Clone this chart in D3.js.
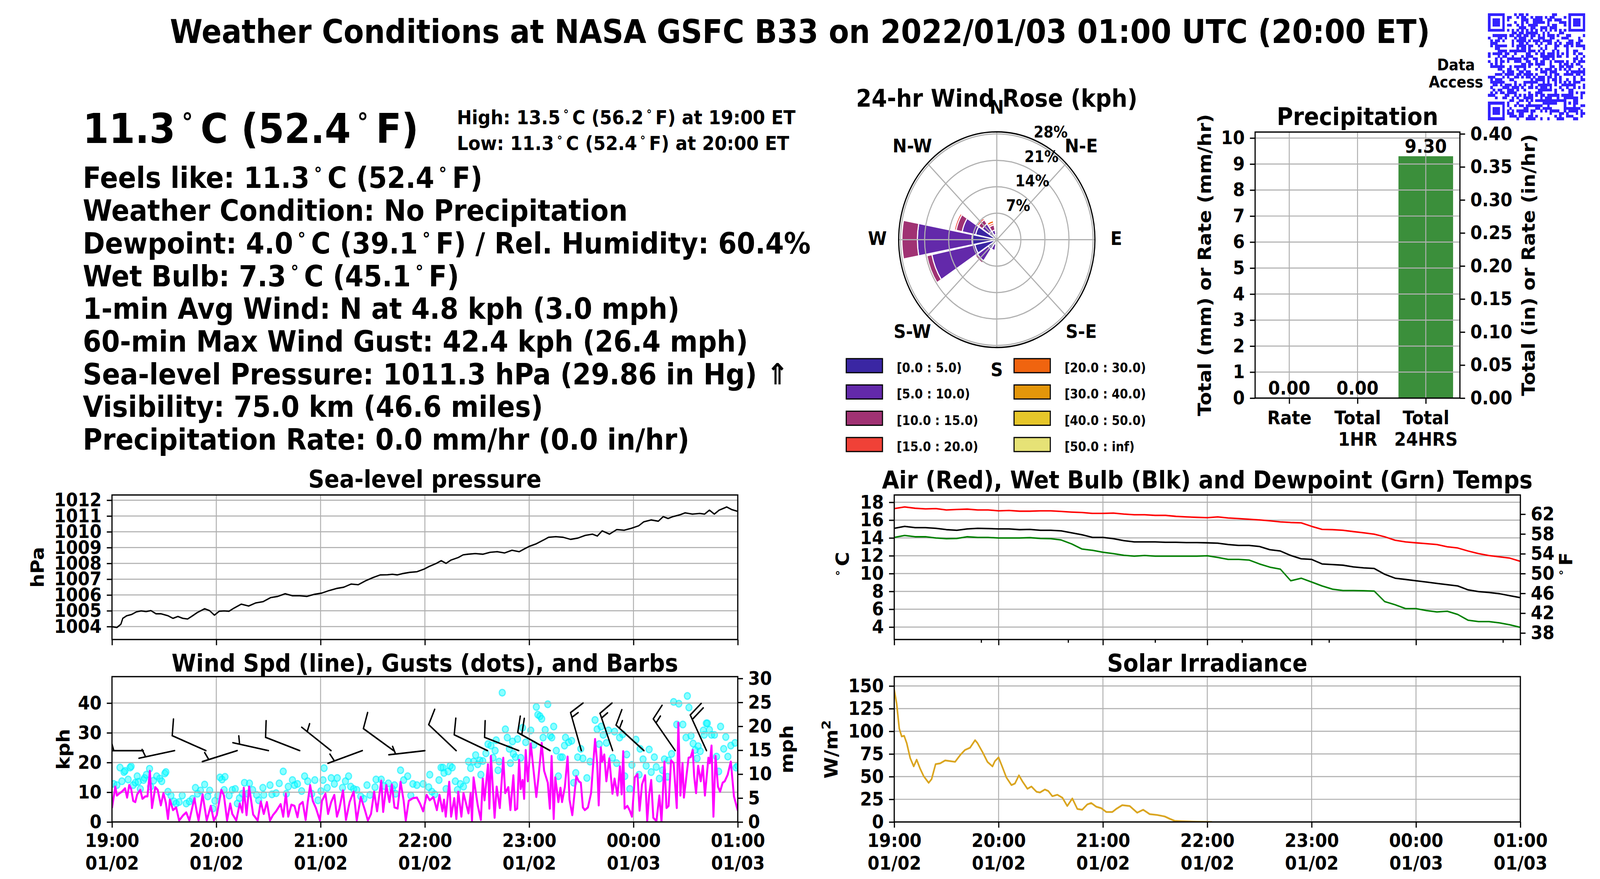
<!DOCTYPE html>
<html>
<head>
<meta charset="utf-8">
<script src="https://cdn.jsdelivr.net/npm/d3@7"></script>
<style>
html,body{margin:0;padding:0;background:#fff;width:100%;height:100%;overflow:hidden;}
#chart{display:block;width:100vw;height:100vh;}
svg text{font-family:"DejaVu Sans",sans-serif;font-weight:bold;}
</style>
</head>
<body>
<svg id="chart" viewBox="0 0 4500 2250" preserveAspectRatio="none" xmlns="http://www.w3.org/2000/svg"></svg>
<script>
// ======================= DATA =======================
const titleText = "Weather Conditions at NASA GSFC B33 on 2022/01/03 01:00 UTC (20:00 ET)";
const currentTemp = "11.3°C (52.4°F)";
const highLowLines = ["High: 13.5°C (56.2°F) at 19:00 ET", "Low: 11.3°C (52.4°F) at 20:00 ET"];
const infoLines = [
  "Feels like: 11.3°C (52.4°F)",
  "Weather Condition: No Precipitation",
  "Dewpoint: 4.0°C (39.1°F) / Rel. Humidity: 60.4%",
  "Wet Bulb: 7.3°C (45.1°F)",
  "1-min Avg Wind: N at 4.8 kph (3.0 mph)",
  "60-min Max Wind Gust: 42.4 kph (26.4 mph)",
  "Sea-level Pressure: 1011.3 hPa (29.86 in Hg) \u21D1",
  "Visibility: 75.0 km (46.6 miles)",
  "Precipitation Rate: 0.0 mm/hr (0.0 in/hr)"
];

// time axis (minutes after 2022/01/02 19:00 UTC)
const hourTicks = [0, 60, 120, 180, 240, 300, 360];
const hourLabels = [["19:00","01/02"],["20:00","01/02"],["21:00","01/02"],["22:00","01/02"],["23:00","01/02"],["00:00","01/03"],["01:00","01/03"]];
const tempMinorTicks = [50, 100, 150, 200, 250, 350];

// sea-level pressure [minute, hPa]
const pressure = [[0,1003.99],[2.8,1003.94],[5.1,1004.15],[6.2,1004.52],[8.4,1004.68],[11.2,1004.76],[14.0,1004.93],[16.8,1004.99],[19.6,1004.95],[22.4,1005.01],[25.3,1004.81],[28.1,1004.81],[32.3,1004.68],[35.1,1004.52],[37.9,1004.64],[40.7,1004.52],[43.5,1004.48],[46.3,1004.68],[49.1,1004.89],[53.3,1005.13],[56.1,1005.01],[58.9,1004.72],[61.7,1004.97],[64.5,1004.99],[67.3,1004.97],[70.2,1005.17],[74.4,1005.42],[78.6,1005.30],[82.8,1005.50],[87.0,1005.58],[91.2,1005.83],[95.4,1005.91],[99.6,1006.08],[103.8,1005.95],[108.0,1005.95],[112.2,1005.91],[116.4,1006.04],[120.7,1006.12],[124.9,1006.28],[129.1,1006.41],[133.3,1006.49],[137.5,1006.69],[141.7,1006.65],[145.9,1006.90],[150.1,1007.10],[154.3,1007.27],[158.5,1007.28],[161.3,1007.31],[164.2,1007.27],[167.0,1007.35],[171.2,1007.43],[175.4,1007.47],[179.6,1007.64],[182.4,1007.80],[186.6,1008.00],[189.4,1008.17],[192.2,1008.00],[195.0,1008.21],[199.2,1008.37],[202.0,1008.54],[204.8,1008.58],[209.0,1008.62],[213.3,1008.58],[217.5,1008.70],[221.7,1008.74],[225.9,1008.66],[230.1,1008.83],[234.3,1008.74],[237.1,1008.91],[239.9,1009.07],[244.1,1009.24],[248.3,1009.48],[251.1,1009.65],[255.3,1009.69],[259.6,1009.65],[263.8,1009.52],[268.0,1009.60],[272.2,1009.77],[276.4,1009.85],[279.2,1009.73],[282.0,1010.06],[286.2,1009.85],[290.4,1010.14],[294.6,1010.10],[298.8,1010.22],[303.0,1010.38],[305.9,1010.63],[310.1,1010.75],[314.3,1010.67],[317.1,1010.96],[319.9,1010.84],[322.7,1010.96],[326.9,1011.08],[329.7,1011.20],[333.9,1011.12],[338.1,1011.16],[340.9,1011.12],[343.7,1011.37],[346.5,1011.12],[349.3,1011.37],[353.6,1011.57],[356.4,1011.41],[360,1011.29]];

// 1-min wind speed [minute, kph]
const windSpeed = [[0,4.7],[1.9,11.9],[2.8,8.9],[4.0,9.5],[5.7,10.2],[7.5,11.3],[8.7,8.2],[9.9,12.4],[11.0,11.1],[12.2,7.1],[13.4,6.7],[14.5,9.3],[16.3,10.8],[17.5,7.8],[19.2,8.6],[20.4,8.6],[21.8,17.2],[23.0,4.7],[24.9,11.7],[26.3,10.8],[28.1,5.6],[29.6,9.7],[31.0,6.4],[32.2,1.0],[33.3,7.5],[35.1,4.0],[36.9,4.9],[38.6,0.5],[41.0,2.3],[42.7,3.2],[44.5,0.5],[47.4,8.0],[48.6,4.0],[49.8,0.5],[52.1,9.3],[54.5,0.5],[56.8,5.4],[58.6,0.5],[60.3,2.3],[62.9,10.8],[64.4,8.9],[66.2,0.5],[68.0,6.2],[69.2,2.7],[71.5,0.5],[73.5,6.2],[75.0,3.2],[75.8,11.5],[77.4,2.3],[78.9,11.9],[81.2,2.5],[83.8,0.5],[85.6,6.9],[87.3,2.7],[89.1,6.7],[90.9,0.5],[92.6,2.3],[94.4,3.6],[97.0,6.0],[98.5,1.8],[100.0,9.5],[101.4,1.8],[103.2,5.8],[105.0,5.4],[106.7,1.6],[107.9,5.8],[109.7,6.7],[111.4,0.7],[112.6,6.7],[114.0,12.4],[115.5,7.1],[117.3,4.7],[119.6,0.5],[120.8,7.1],[122.8,9.5],[124.3,2.7],[126.1,6.7],[127.9,9.1],[129.4,1.8],[130.8,4.5],[132.9,10.6],[134.6,0.7],[136.7,6.7],[139.0,10.2],[140.8,0.5],[143.1,8.4],[145.5,4.0],[147.2,0.5],[149.0,2.7],[150.8,10.2],[152.5,3.6],[154.9,13.9],[156.0,3.4],[157.8,12.4],[159.6,6.7],[161.0,12.6],[162.5,4.9],[164.3,4.5],[166.0,13.5],[167.8,7.1],[169.0,0.5],[170.7,7.1],[173.1,8.0],[175.4,8.2],[177.2,6.2],[179.0,3.6],
[181.0,9.1],[182.8,7.3],[184.9,8.4],[186.9,4.0],[188.4,9.1],[190.1,3.6],[191.0,7.5],[192.0,1.8],[194.0,13.5],[195.1,1.8],[196.9,8.0],[198.1,1.0],[199.2,10.2],[201.0,1.8],[202.2,9.7],[205.1,2.9],[206.3,9.7],[207.1,0.3],[208.0,15.0],[210.4,5.6],[212.2,0.7],[213.3,14.6],[214.3,7.3],[216.3,19.4],[217.1,4.5],[218.0,22.2],[220.1,1.4],[221.3,11.9],[223.1,4.7],[225.1,21.6],[226.2,9.7],[228.0,11.7],[229.2,4.0],[230.9,15.7],[231.9,4.0],[233.1,4.5],[234.2,20.9],[235.1,11.1],[236.2,14.1],[237.1,7.8],[238.0,24.2],[239.2,13.7],[240.9,26.4],[242.7,16.3],[244.1,8.4],[245.3,14.8],[247.2,26.6],[248.6,17.2],[250.7,13.2],[251.9,4.5],[252.9,22.2],[254.1,1.0],[255.0,15.0],[256.8,6.7],[258.0,11.5],[258.9,6.7],[260.5,11.7],[262.1,22.0],[263.2,7.5],[264.8,2.3],[267.1,15.4],[268.5,13.7],[269.7,13.2],[270.9,4.9],[272.0,4.0],[273.8,4.9],[275.6,9.7],[277.9,27.9],[279.1,19.8],[280.0,5.6],[281.2,25.1],[282.0,20.3],[283.2,22.7],[284.4,13.7],[286.1,21.4],[287.9,9.5],[289.1,14.6],[290.8,8.9],[292.2,18.7],[293.2,9.3],[294.1,23.8],[294.9,4.5],[296.5,5.4],[297.9,3.8],[299.1,1.8],[300.8,15.0],[302.3,16.1],[303.5,3.8],[304.9,12.6],[306.7,15.7],[307.9,0.3],[309.0,9.1],[310.2,14.1],[311.4,1.4],[313.2,0.3],[314.9,8.9],[316.1,0.1],[317.8,20.3],[319.0,4.7],[320.2,5.4],[321.6,20.7],[323.1,19.8],[324.9,4.7],[325.8,33.4],[327.0,8.9],[328.2,19.8],[329.0,8.2],[330.2,14.1],[331.7,21.6],[332.9,21.8],[334.1,24.2],[334.9,15.4],[336.0,9.7],[337.2,18.9],[338.7,13.7],[339.9,18.9],[341.1,8.9],[343.1,21.6],[343.9,19.8],[344.9,25.7],[346.0,1.8],[347.2,22.2],[348.6,11.9],[349.8,10.2],[351.3,13.2],[352.5,13.7],[354.2,15.9],[356.0,20.3],[357.8,8.6],[359.5,4.9],[360,3.8]];

// wind gusts [minute, kph]
const windGust = [[1.0,12.8],[2.8,12.4],[4.6,18.3],[5.7,13.7],[6.9,16.8],[7.5,17.2],[9.3,14.3],[10.4,18.3],[11.0,18.7],[12.2,12.4],[13.4,13.2],[14.5,15.4],[15.1,13.5],[16.3,11.1],[18.1,14.1],[18.7,14.8],[19.8,15.9],[21.6,17.9],[22.2,11.9],[23.9,13.9],[25.7,15.4],[27.5,14.6],[28.6,13.7],[30.4,16.3],[31.0,16.8],[32.2,10.2],[33.9,8.9],[35.7,6.9],[36.9,6.2],[38.6,6.7],[40.4,8.9],[42.7,6.2],[44.5,6.9],[46.3,7.8],[48.0,11.5],[49.2,9.5],[50.9,10.6],[53.3,12.6],[55.1,8.6],[56.2,10.6],[58.0,4.5],[59.2,7.1],[60.9,8.9],[62.1,15.0],[63.3,14.3],[64.5,10.8],[65.0,15.2],[67.4,8.9],[69.2,10.8],[70.9,11.1],[72.1,6.2],[73.3,8.0],[75.0,9.5],[76.2,13.2],[78.0,9.5],[79.1,13.0],[80.9,10.8],[83.2,9.1],[84.4,7.3],[86.8,11.5],[87.3,9.1],[90.9,12.4],[92.0,9.3],[94.4,9.7],[96.2,13.0],[98.5,17.0],[100.3,9.5],[101.4,11.9],[103.8,14.1],[105.0,12.4],[106.7,12.8],[109.1,10.4],[110.8,15.4],[112.6,13.7],[114.9,9.5],[116.7,14.1],[118.5,7.3],[120.2,10.4],[121.4,14.1],[122.0,18.1],[123.8,11.5],[126.1,14.8],[127.9,12.8],[129.6,14.8],[132.6,11.5],[134.3,13.7],[136.1,15.4],[137.3,11.9],[139.0,11.1],[140.8,10.8],[143.1,8.6],[144.9,7.8],[146.7,12.4],[148.4,9.1],[151.3,11.7],[151.9,14.3],[154.9,14.3],[156.6,12.1],[159.0,13.0],[161.3,11.1],[162.5,12.4],[163.1,9.5],[166.0,17.4],[167.8,14.1],[170.1,15.4],[171.9,8.9],[173.1,12.8],[175.4,12.4],[179.0,12.8],
[182.2,11.7],[182.8,15.9],[184.0,10.2],[185.7,9.3],[188.1,14.1],[189.3,18.3],[190.4,18.3],[191.0,16.5],[192.2,11.1],[193.4,17.0],[194.5,18.9],[195.7,18.3],[197.5,13.7],[198.7,10.8],[200.4,12.8],[202.2,11.9],[203.9,14.1],[205.1,20.3],[206.3,18.1],[208.0,20.3],[209.2,22.5],[210.4,19.4],[211.6,20.7],[212.2,15.9],[213.3,20.5],[215.1,23.1],[216.3,26.2],[218.0,25.7],[219.2,21.6],[220.4,24.0],[221.0,27.5],[222.1,17.4],[222.7,20.3],[224.5,43.5],[226.3,31.2],[227.4,28.4],[228.6,24.6],[229.2,19.8],[230.4,27.1],[230.9,22.9],[232.1,21.8],[233.3,27.9],[235.1,21.6],[236.2,31.7],[238.0,26.8],[240.9,30.8],[242.7,26.0],[244.1,38.7],[245.0,36.1],[246.2,35.6],[247.2,34.7],[248.0,28.4],[249.2,31.0],[250.7,39.6],[252.1,29.0],[253.0,28.4],[254.1,32.1],[255.6,24.0],[256.8,15.4],[258.0,21.8],[259.1,21.8],[260.3,25.7],[260.9,28.4],[262.7,26.8],[264.4,27.3],[265.6,13.2],[266.8,16.5],[267.9,21.8],[269.7,24.6],[270.9,21.4],[273.2,14.8],[275.0,20.3],[277.9,34.3],[279.1,31.2],[280.3,26.2],[281.4,32.1],[282.6,29.3],[284.4,26.6],[285.6,30.8],[287.9,21.6],[289.1,30.4],[290.3,19.8],[292.0,28.4],[293.8,29.5],[295.0,15.4],[296.1,22.7],[297.9,11.1],[299.1,19.2],[301.4,27.7],[303.2,15.9],[303.8,24.6],[305.5,21.1],[307.3,18.9],[309.0,24.4],[310.2,16.8],[312.0,21.8],[313.1,18.5],[314.9,14.6],[316.7,17.4],[317.8,21.1],[319.6,15.2],[320.2,20.7],[321.9,22.9],[323.1,40.4],[324.9,32.8],[326.1,39.8],[328.4,32.8],[330.2,28.4],[331.0,42.4],[331.9,38.5],[333.1,29.0],[334.3,26.4],[335.5,24.2],[336.6,21.4],[337.2,25.5],[338.4,23.8],[340.2,30.8],[340.7,29.3],[341.9,33.2],[342.5,33.2],[343.7,31.0],[344.9,29.3],[346.6,29.3],[347.8,22.0],[349.0,17.0],[350.1,32.1],[351.9,24.6],[353.1,28.6],[354.3,22.0],[356.0,25.7],[358.4,26.6],[359.0,18.3],[360.0,18.9]];

// wind barbs (every 18 min): wind-from direction (deg) and speed class (kph)
const barbMin = [0,18,36,54,72,90,108,126,144,162,180,198,216,234,252,270,288,306,324,342];
const barbFrom = [270,270,259,292,254,281.5,289.5,306,251.5,303.6,264,310.7,293.5,289.5,297,342.7,339.6,309.8,322.8,333.4];
const barbSpeed = [10,5,5,10,5,5,10,5,5,10,5,10,10,10,20,15,15,15,15,20];
const barbLevel = 24;

// temperatures every 6 minutes
const tempMin = [0,6,12,18,24,30,36,42,48,54,60,66,72,78,84,90,96,102,108,114,120,126,132,138,144,150,156,162,168,174,180,186,192,198,204,210,216,222,228,234,240,246,252,258,264,270,276,282,288,294,300,306,312,318,324,330,336,342,348,354,360];
const airC = [17.29,17.48,17.33,17.26,17.29,17.14,17.19,17.23,17.14,17.14,17.04,17.08,17.00,17.00,17.04,17.04,16.97,16.90,16.85,16.75,16.75,16.79,16.68,16.60,16.60,16.53,16.53,16.42,16.36,16.31,16.27,16.36,16.24,16.17,16.10,16.02,15.92,15.80,15.73,15.69,15.30,14.96,14.93,14.86,14.71,14.57,14.42,14.13,13.74,13.55,13.45,13.36,13.26,13.01,12.87,12.53,12.24,12.02,11.88,11.73,11.37];
const wetBulbC = [15.08,15.30,15.15,15.15,15.08,14.93,14.86,15.01,15.08,15.05,15.01,15.01,14.93,14.96,14.86,14.86,14.79,14.57,14.35,14.06,14.06,13.92,13.70,13.55,13.55,13.55,13.51,13.51,13.48,13.48,13.45,13.41,13.26,13.16,13.16,13.04,12.68,12.53,12.03,11.66,11.59,11.08,11.01,10.94,10.75,10.64,10.57,9.92,9.48,9.34,9.19,9.05,8.90,8.75,8.61,8.17,7.98,7.88,7.74,7.52,7.30];
const dewC = [14.06,14.28,14.13,14.13,13.99,13.92,13.94,14.13,14.06,14.06,13.99,13.99,13.99,14.03,13.94,13.92,13.77,13.33,12.75,12.61,12.39,12.24,12.05,11.95,12.03,11.95,11.95,11.95,11.95,11.95,12.00,11.81,11.59,11.59,11.52,11.08,10.72,10.50,9.19,9.48,9.05,8.61,8.25,8.10,8.10,8.07,8.03,6.86,6.50,6.07,6.07,5.85,5.70,5.77,5.41,4.76,4.61,4.61,4.47,4.25,3.96];

// solar irradiance [minute, W/m2]
const solar = [[0,146],[1.4,130.5],[2.9,103],[4.3,94.3],[5.7,95],[7.2,86.9],[9.2,70.4],[11.2,61.3],[12.9,68.7],[14.9,58.8],[16.9,50.6],[19.8,43.2],[21.5,47.3],[23.8,63.8],[26.4,64.6],[29.3,67.9],[32.1,67.1],[35.0,66.3],[37.9,73.7],[40.7,79.4],[43.6,81.9],[46.5,90.2],[47.9,86.9],[50.8,77.0],[53.6,66.3],[56.5,61.3],[57.9,67.1],[60.0,71.2],[62.2,60.5],[64.5,49.0],[67.4,40.7],[69.4,42.4],[71.7,51.4],[73.7,44.8],[76.6,36.6],[78.9,39.1],[81.8,33.3],[83.8,32.5],[86.6,35.8],[88.6,34.1],[90.9,28.4],[93.8,30.0],[96.7,26.7],[99.5,17.6],[102.4,25.9],[105.3,14.3],[108.1,13.5],[111.0,19.3],[113.3,20.9],[116.2,16.8],[119.0,15.2],[121.9,11.0],[125.4,11.0],[127.6,14.3],[131.1,18.5],[135.4,17.6],[139.7,10.2],[143.1,13.5],[146.9,8.6],[151.2,7.7],[155.5,6.1],[158.3,3.6],[161.2,1.2],[165.5,0.8],[174.1,0.2],[182.7,0]];

// precipitation
const precipCats = [["Rate"],["Total","1HR"],["Total","24HRS"]];
const precipVals = [0.00, 0.00, 9.30];

// wind rose: percent frequency by direction, per speed bin (kph)
const roseDirs = ["N","NNE","NE","ENE","E","ESE","SE","SSE","S","SSW","SW","WSW","W","WNW","NW","NNW"];
const roseBinLabels = ["[0.0 : 5.0)","[5.0 : 10.0)","[10.0 : 15.0)","[15.0 : 20.0)","[20.0 : 30.0)","[30.0 : 40.0)","[40.0 : 50.0)","[50.0 : inf)"];
const rose0to5   = [0.8,0.4,0,0,0,0.4,0,0.3,0.4,1.2,3.0,6.5,7.2,6.3,2.7,1.4];
const rose5to10  = [1.2,0,0,0,0,0,0,0.3,0.3,1.7,3.8,12.8,15.9,4.0,2.4,1.2];
const rose10to15 = [0,0,0,0,0,0,0,0,0,0,0.7,1.5,4.5,1.8,1.3,1.4];
const rose15to20 = [0,0,0,0,0,0,0,0,0,0,0,0.5,0,0.5,0.5,0.5];
const rose20to30 = [0,0,0,0,0,0,0,0,0,0,0,0,0,0,0,0.65];
const rose30to40 = [0,0,0,0,0,0,0,0,0,0,0,0,0,0,0,0];
const rose40to50 = [0,0,0,0,0,0,0,0,0,0,0,0,0,0,0,0];
const rose50up   = [0,0,0,0,0,0,0,0,0,0,0,0,0,0,0,0];
const roseRings = [7, 14, 21, 28];
const roseCompass = ["N","N-E","E","S-E","S","S-W","W","N-W"];

// ======================= STYLE / LAYOUT =======================
const FONT = "DejaVu Sans";
const GRID = "#b0b0b0", GW = 2.7, SPW = 3.3, TL = 14.6, TW = 3.3, PAD = 14.6;
const TICKFS = 48, LABFS = 50, TITLEFS = 62.5;
const roseColors = ["#3a26a3","#6329aa","#a03273","#f04137","#f0640f","#e4960a","#e6c62a","#e6e276"];
const P = {
  press: {x0:315, x1:2075, y0:1267, y1:1637},
  wind:  {x0:315, x1:2075, y0:1732, y1:2104},
  temp:  {x0:2515, x1:4276, y0:1267, y1:1637},
  solar: {x0:2515, x1:4276, y0:1732, y1:2104},
  precip:{x0:3530, x1:4106, y0:338, y1:1019}
};

const svg = d3.select("#chart");
svg.append("rect").attr("width",4500).attr("height",2250).attr("fill","#fff");
const defs = svg.append("defs");

function richText(parent, x, y, str, fs, anchor) {
  const t = parent.append("text").attr("x", x).attr("y", y).attr("font-size", fs)
    .attr("text-anchor", anchor || "start").attr("fill", "#000");
  const parts = str.split("°");
  parts.forEach((p, i) => {
    if (i > 0) {
      t.append("tspan").attr("dx", (0.17*fs).toFixed(1)).attr("dy", (-0.29*fs).toFixed(1))
        .attr("font-size", (0.6*fs).toFixed(1)).text("°");
      t.append("tspan").attr("dx", (0.2*fs).toFixed(1)).attr("dy", (0.29*fs).toFixed(1)).text(p);
    } else if (p.length) {
      t.append("tspan").text(p);
    }
  });
  return t;
}
function yLabel(x, yc, str, fs) {
  const g = svg.append("g").attr("transform", `translate(${x},${yc}) rotate(-90)`);
  return richText(g, 0, 0.35*fs, str, fs, "middle");
}
function styleAxis(sel, fs) {
  sel.select(".domain").remove();
  sel.attr("font-size", fs).attr("font-family", FONT).attr("font-weight", "bold");
  sel.selectAll(".tick line").attr("stroke-width", TW).attr("stroke", "#000");
  sel.selectAll(".tick text").attr("fill", "#000");
}
function clipFor(id, p) {
  defs.append("clipPath").attr("id", id).append("rect")
    .attr("x", p.x0).attr("y", p.y0).attr("width", p.x1 - p.x0).attr("height", p.y1 - p.y0);
  return `url(#${id})`;
}
function spines(p) {
  svg.append("rect").attr("x", p.x0).attr("y", p.y0).attr("width", p.x1 - p.x0).attr("height", p.y1 - p.y0)
    .attr("fill", "none").attr("stroke", "#000").attr("stroke-width", SPW);
}
function gridLines(layer, p, x, xvals, y, yvals) {
  xvals.forEach(v => layer.append("line").attr("x1", x(v)).attr("x2", x(v)).attr("y1", p.y0).attr("y2", p.y1)
    .attr("stroke", GRID).attr("stroke-width", GW));
  yvals.forEach(v => layer.append("line").attr("x1", p.x0).attr("x2", p.x1).attr("y1", y(v)).attr("y2", y(v))
    .attr("stroke", GRID).attr("stroke-width", GW));
}
function timeAxis(p, x, withLabels, minor) {
  const ax = svg.append("g").attr("transform", `translate(0,${p.y1})`)
    .call(d3.axisBottom(x).tickValues(hourTicks).tickSize(TL).tickPadding(PAD).tickFormat(() => ""));
  styleAxis(ax, TICKFS);
  if (withLabels) {
    ax.selectAll(".tick text").each(function(d, i) {
      const t = d3.select(this); t.attr("dy", null).attr("y", TL + PAD);
      t.append("tspan").attr("x", 0).attr("dy", "0.73em").text(hourLabels[i][0]);
      t.append("tspan").attr("x", 0).attr("dy", "1.2em").text(hourLabels[i][1]);
    });
  }
  if (minor) {
    const mx = svg.append("g").attr("transform", `translate(0,${p.y1})`)
      .call(d3.axisBottom(x).tickValues(minor).tickSize(8.3).tickFormat(() => ""));
    styleAxis(mx, TICKFS);
  }
}
function leftAxis(p, y, vals, fmt) {
  const ax = svg.append("g").attr("transform", `translate(${p.x0},0)`)
    .call(d3.axisLeft(y).tickValues(vals).tickSize(TL).tickPadding(PAD).tickFormat(fmt));
  styleAxis(ax, TICKFS);
}
function rightAxis(p, y, vals, fmt) {
  const ax = svg.append("g").attr("transform", `translate(${p.x1},0)`)
    .call(d3.axisRight(y).tickValues(vals).tickSize(TL).tickPadding(PAD).tickFormat(fmt));
  styleAxis(ax, TICKFS);
}

// ======================= TITLE & TEXT =======================
svg.append("text").attr("x", 2250).attr("y", 110).attr("font-size", 83.3).attr("text-anchor", "middle").text(titleText);
richText(svg, 233, 366, currentTemp, 105.5, "start");
richText(svg, 1285, 318, highLowLines[0], 50, "start");
richText(svg, 1285, 384.5, highLowLines[1], 50, "start");
infoLines.forEach((s, i) => richText(svg, 233, 481.5 + i*83.7, s, 75, "start"));

// ======================= QR CODE =======================
(function qr() {
  const n = 41, ms = 273/41, ox = 4185, oy = 34;
  const m = Array.from({length:n}, () => new Array(n).fill(0));
  for (let r = 0; r < n; r++) for (let c = 0; c < n; c++) {
    let h = Math.imul(r + 11, 0x9E3779B1) ^ Math.imul(c + 37, 0x85EBCA77);
    h ^= h >>> 15; h = Math.imul(h, 0xC2B2AE3D); h ^= h >>> 13;
    m[r][c] = (h >>> 7) & 1;
  }
  const finder = (r0, c0) => {
    for (let r = -1; r <= 7; r++) for (let c = -1; c <= 7; c++) {
      const rr = r0 + r, cc = c0 + c;
      if (rr < 0 || cc < 0 || rr >= n || cc >= n) continue;
      let v = 0;
      if (r >= 0 && r <= 6 && c >= 0 && c <= 6)
        v = (r === 0 || r === 6 || c === 0 || c === 6 || (r >= 2 && r <= 4 && c >= 2 && c <= 4)) ? 1 : 0;
      m[rr][cc] = v;
    }
  };
  finder(0, 0); finder(0, n - 7); finder(n - 7, 0);
  for (let i = 8; i < n - 8; i++) { m[6][i] = (i % 2 === 0) ? 1 : 0; m[i][6] = (i % 2 === 0) ? 1 : 0; }
  const ac = n - 7;
  for (let r = -2; r <= 2; r++) for (let c = -2; c <= 2; c++)
    m[ac + r][ac + c] = (Math.max(Math.abs(r), Math.abs(c)) !== 1) ? 1 : 0;
  const g = svg.append("g").attr("shape-rendering", "crispEdges");
  for (let r = 0; r < n; r++) for (let c = 0; c < n; c++) if (m[r][c])
    g.append("rect").attr("x", ox + c*ms).attr("y", oy + r*ms).attr("width", ms + 0.6).attr("height", ms + 0.6).attr("fill", "#3322ff");
})();
svg.append("text").attr("x", 4095).attr("y", 179.7).attr("font-size", 40).attr("text-anchor", "middle").text("Data");
svg.append("text").attr("x", 4095).attr("y", 223.7).attr("font-size", 40).attr("text-anchor", "middle").text("Access");

// ======================= WIND ROSE =======================
(function rose() {
  const cx = 2803.5, cy = 613.5, R = 276;
  const rS = d3.scaleLinear().domain([0, 28.54]).range([0, R]);
  const bins = [rose0to5, rose5to10, rose10to15, rose15to20, rose20to30, rose30to40, rose40to50, rose50up];
  const g = svg.append("g").attr("transform", `translate(${cx},${cy})`);
  const arc = d3.arc();
  const hw = (22.5 * 0.95 / 2) * Math.PI / 180;
  roseDirs.forEach((d, i) => {
    const a = i * 22.5 * Math.PI / 180;
    let cum = 0;
    bins.forEach((bin, b) => {
      const v = bin[i];
      if (!(v > 0)) return;
      g.append("path").attr("d", arc({innerRadius: rS(cum), outerRadius: rS(cum + v), startAngle: a - hw, endAngle: a + hw}))
        .attr("fill", roseColors[b]).attr("stroke", "#fff").attr("stroke-width", 3);
      cum += v;
    });
  });
  roseRings.forEach(p => g.append("circle").attr("r", rS(p)).attr("fill", "none").attr("stroke", GRID).attr("stroke-width", 3));
  for (let k = 0; k < 8; k++) {
    const a = k * Math.PI / 4;
    g.append("line").attr("x1", 0).attr("y1", 0).attr("x2", R * Math.sin(a)).attr("y2", -R * Math.cos(a))
      .attr("stroke", GRID).attr("stroke-width", 3);
  }
  g.append("circle").attr("r", R).attr("fill", "none").attr("stroke", "#000").attr("stroke-width", SPW);
  roseRings.forEach(p => {
    const r = rS(p);
    g.append("text").attr("x", 0.383 * r).attr("y", -0.924 * r - 11).attr("font-size", 40).text(p + "%");
  });
  roseCompass.forEach((lab, k) => {
    const a = k * Math.PI / 4, rr = 336;
    g.append("text").attr("x", rr * Math.sin(a)).attr("y", -rr * Math.cos(a) - 3).attr("font-size", 48)
      .attr("text-anchor", "middle").attr("dominant-baseline", "central").text(lab);
  });
  svg.append("text").attr("x", cx).attr("y", 272.7).attr("font-size", TITLEFS).attr("text-anchor", "middle").text("24-hr Wind Rose (kph)");
  // legend
  const legX = [2380, 2852], legTX = [2522, 2994];
  roseBinLabels.forEach((lab, i) => {
    const col = Math.floor(i / 4), row = i % 4, yc = 936 + row * 67.3;
    svg.append("rect").attr("x", legX[col]).attr("y", yc - 18).attr("width", 102).attr("height", 36)
      .attr("fill", roseColors[i]).attr("stroke", "#000").attr("stroke-width", 3);
    svg.append("text").attr("x", legTX[col]).attr("y", yc + 17).attr("font-size", 33).text(lab);
  });
})();

// ======================= PRECIPITATION =======================
(function precip() {
  const p = P.precip;
  const x = d3.scaleLinear().domain([-0.5, 2.5]).range([p.x0, p.x1]);
  const y = d3.scaleLinear().domain([0, 10.23]).range([p.y1, p.y0]);
  const yIn = d3.scaleLinear().domain([0, 10.23 / 25.4]).range([p.y1, p.y0]);
  const bw = 0.8;
  precipVals.forEach((v, i) => {
    svg.append("rect").attr("x", x(i - bw/2)).attr("width", x(i + bw/2) - x(i - bw/2))
      .attr("y", y(v)).attr("height", y(0) - y(v)).attr("fill", "#3b8f3b");
  });
  const gl = svg.append("g");
  gridLines(gl, p, x, [0, 1, 2], y, d3.range(0, 11));
  precipVals.forEach((v, i) => {
    svg.append("text").attr("x", x(i)).attr("y", y(v) - 9).attr("font-size", TICKFS).attr("text-anchor", "middle").text(v.toFixed(2));
  });
  spines(p);
  leftAxis(p, y, d3.range(0, 11), d3.format("d"));
  rightAxis(p, yIn, [0, 0.05, 0.10, 0.15, 0.20, 0.25, 0.30, 0.35, 0.40], d3.format(".2f"));
  const ax = svg.append("g").attr("transform", `translate(0,${p.y1})`)
    .call(d3.axisBottom(x).tickValues([0, 1, 2]).tickSize(TL).tickPadding(PAD).tickFormat(() => ""));
  styleAxis(ax, TICKFS);
  ax.selectAll(".tick text").each(function(d, i) {
    const t = d3.select(this); t.attr("dy", null).attr("y", TL + PAD);
    precipCats[i].forEach((s, j) => t.append("tspan").attr("x", 0).attr("dy", j === 0 ? "0.78em" : "1.15em").text(s));
  });
  svg.append("text").attr("x", (p.x0 + p.x1) / 2).attr("y", 320.5).attr("font-size", TITLEFS).attr("text-anchor", "middle").text("Precipitation");
  yLabel(3388, (p.y0 + p.y1) / 2, "Total (mm) or Rate (mm/hr)", LABFS);
  yLabel(4299, (p.y0 + p.y1) / 2, "Total (in) or Rate (in/hr)", LABFS);
})();

// ======================= SEA-LEVEL PRESSURE =======================
(function press() {
  const p = P.press;
  const x = d3.scaleLinear().domain([0, 360]).range([p.x0, p.x1]);
  const y = d3.scaleLinear().domain([1003.18, 1012.33]).range([p.y1, p.y0]);
  const ticks = d3.range(1004, 1013);
  gridLines(svg.append("g"), p, x, hourTicks, y, ticks);
  svg.append("path").datum(pressure).attr("clip-path", clipFor("cp-press", p))
    .attr("d", d3.line().x(d => x(d[0])).y(d => y(d[1])))
    .attr("fill", "none").attr("stroke", "#000").attr("stroke-width", 3.6).attr("stroke-linejoin", "round");
  spines(p);
  leftAxis(p, y, ticks, d3.format("d"));
  timeAxis(p, x, false, null);
  svg.append("text").attr("x", (p.x0 + p.x1) / 2).attr("y", 1248).attr("font-size", TITLEFS).attr("text-anchor", "middle").text("Sea-level pressure");
  yLabel(106, (p.y0 + p.y1) / 2, "hPa", LABFS);
})();

// ======================= WIND =======================
(function wind() {
  const p = P.wind;
  const x = d3.scaleLinear().domain([0, 360]).range([p.x0, p.x1]);
  const y = d3.scaleLinear().domain([0, 48.9]).range([p.y1, p.y0]);
  const yMph = d3.scaleLinear().domain([0, 48.9 / 1.60934]).range([p.y1, p.y0]);
  const clip = clipFor("cp-wind", p);
  const dots = svg.append("g").attr("clip-path", clip);
  dots.selectAll("circle").data(windGust).join("circle")
    .attr("cx", d => x(d[0])).attr("cy", d => y(d[1])).attr("r", 8.6)
    .attr("fill", "rgba(0,255,255,0.45)").attr("stroke", "rgba(0,238,255,0.6)").attr("stroke-width", 3.2);
  gridLines(svg.append("g"), p, x, hourTicks, y, [0, 10, 20, 30, 40]);
  svg.append("path").datum(windSpeed).attr("clip-path", clip)
    .attr("d", d3.line().x(d => x(d[0])).y(d => y(d[1])))
    .attr("fill", "none").attr("stroke", "#ff00ff").attr("stroke-width", 5.5).attr("stroke-linejoin", "round");
  // barbs
  const bl = svg.append("g").attr("clip-path", clip);
  const L = 102, sp = 0.125 * L;
  barbMin.forEach((m, i) => {
    const px = x(m), py = y(barbLevel);
    const th = barbFrom[i] * Math.PI / 180;
    const D = [Math.sin(th), -Math.cos(th)], S = [Math.cos(th), Math.sin(th)];
    const pt = (o, h) => [px + o * D[0] + h * S[0], py + o * D[1] + h * S[1]];
    let s = barbSpeed[i];
    const nFull = Math.floor(s / 10); s -= nFull * 10;
    const half = s >= 5;
    const segs = [[[px, py], pt(L, 0)]];
    let off = L;
    for (let k = 0; k < nFull; k++) { segs.push([pt(off, 0), pt(off + 0.125 * L, 0.4 * L)]); off -= sp; }
    if (half) { if (off === L) off -= 1.5 * sp; segs.push([pt(off, 0), pt(off + 0.0625 * L, 0.2 * L)]); }
    const d = segs.map(sg => `M${sg[0][0].toFixed(1)},${sg[0][1].toFixed(1)}L${sg[1][0].toFixed(1)},${sg[1][1].toFixed(1)}`).join("");
    bl.append("path").attr("d", d).attr("fill", "none").attr("stroke", "#000").attr("stroke-width", 4).attr("stroke-linecap", "round");
  });
  spines(p);
  leftAxis(p, y, [0, 10, 20, 30, 40], d3.format("d"));
  rightAxis(p, yMph, [0, 5, 10, 15, 20, 25, 30], d3.format("d"));
  timeAxis(p, x, true, null);
  svg.append("text").attr("x", (p.x0 + p.x1) / 2).attr("y", 1719).attr("font-size", TITLEFS).attr("text-anchor", "middle").text("Wind Spd (line), Gusts (dots), and Barbs");
  yLabel(178, (p.y0 + p.y1) / 2, "kph", LABFS);
  yLabel(2213, (p.y0 + p.y1) / 2, "mph", LABFS);
})();

// ======================= TEMPERATURES =======================
(function temps() {
  const p = P.temp;
  const x = d3.scaleLinear().domain([0, 360]).range([p.x0, p.x1]);
  const y = d3.scaleLinear().domain([2.6, 18.82]).range([p.y1, p.y0]);
  const yF = d3.scaleLinear().domain([2.6 * 9 / 5 + 32, 18.82 * 9 / 5 + 32]).range([p.y1, p.y0]);
  const ticks = [4, 6, 8, 10, 12, 14, 16, 18];
  gridLines(svg.append("g"), p, x, hourTicks, y, ticks);
  const clip = clipFor("cp-temp", p);
  const line = d3.line().x((d, i) => x(tempMin[i])).y(d => y(d));
  [[airC, "#ff0000"], [wetBulbC, "#000000"], [dewC, "#008000"]].forEach(([arr, col]) => {
    svg.append("path").datum(arr).attr("clip-path", clip).attr("d", line)
      .attr("fill", "none").attr("stroke", col).attr("stroke-width", 3.8).attr("stroke-linejoin", "round");
  });
  spines(p);
  leftAxis(p, y, ticks, d3.format("d"));
  rightAxis(p, yF, [38, 42, 46, 50, 54, 58, 62], d3.format("d"));
  timeAxis(p, x, false, tempMinorTicks);
  svg.append("text").attr("x", (p.x0 + p.x1) / 2).attr("y", 1249.7).attr("font-size", TITLEFS).attr("text-anchor", "middle").text("Air (Red), Wet Bulb (Blk) and Dewpoint (Grn) Temps");
  yLabel(2370, (p.y0 + p.y1) / 2, "°C", LABFS);
  yLabel(4405, (p.y0 + p.y1) / 2, "°F", LABFS);
})();

// ======================= SOLAR =======================
(function sol() {
  const p = P.solar;
  const x = d3.scaleLinear().domain([0, 360]).range([p.x0, p.x1]);
  const y = d3.scaleLinear().domain([0, 160.3]).range([p.y1, p.y0]);
  const ticks = [0, 25, 50, 75, 100, 125, 150];
  gridLines(svg.append("g"), p, x, hourTicks, y, ticks);
  svg.append("path").datum(solar).attr("clip-path", clipFor("cp-solar", p))
    .attr("d", d3.line().x(d => x(d[0])).y(d => y(d[1])))
    .attr("fill", "none").attr("stroke", "#daa520").attr("stroke-width", 4.5).attr("stroke-linejoin", "round");
  spines(p);
  leftAxis(p, y, ticks, d3.format("d"));
  timeAxis(p, x, true, null);
  svg.append("text").attr("x", (p.x0 + p.x1) / 2).attr("y", 1719).attr("font-size", TITLEFS).attr("text-anchor", "middle").text("Solar Irradiance");
  const g = svg.append("g").attr("transform", `translate(2338,${(p.y0 + p.y1) / 2}) rotate(-90)`);
  const t = g.append("text").attr("x", 0).attr("y", 0.35 * LABFS).attr("font-size", LABFS).attr("text-anchor", "middle");
  t.append("tspan").text("W/m");
  t.append("tspan").attr("font-size", 0.7 * LABFS).attr("dy", -0.4 * LABFS).text("2");
})();
</script>
</body>
</html>
